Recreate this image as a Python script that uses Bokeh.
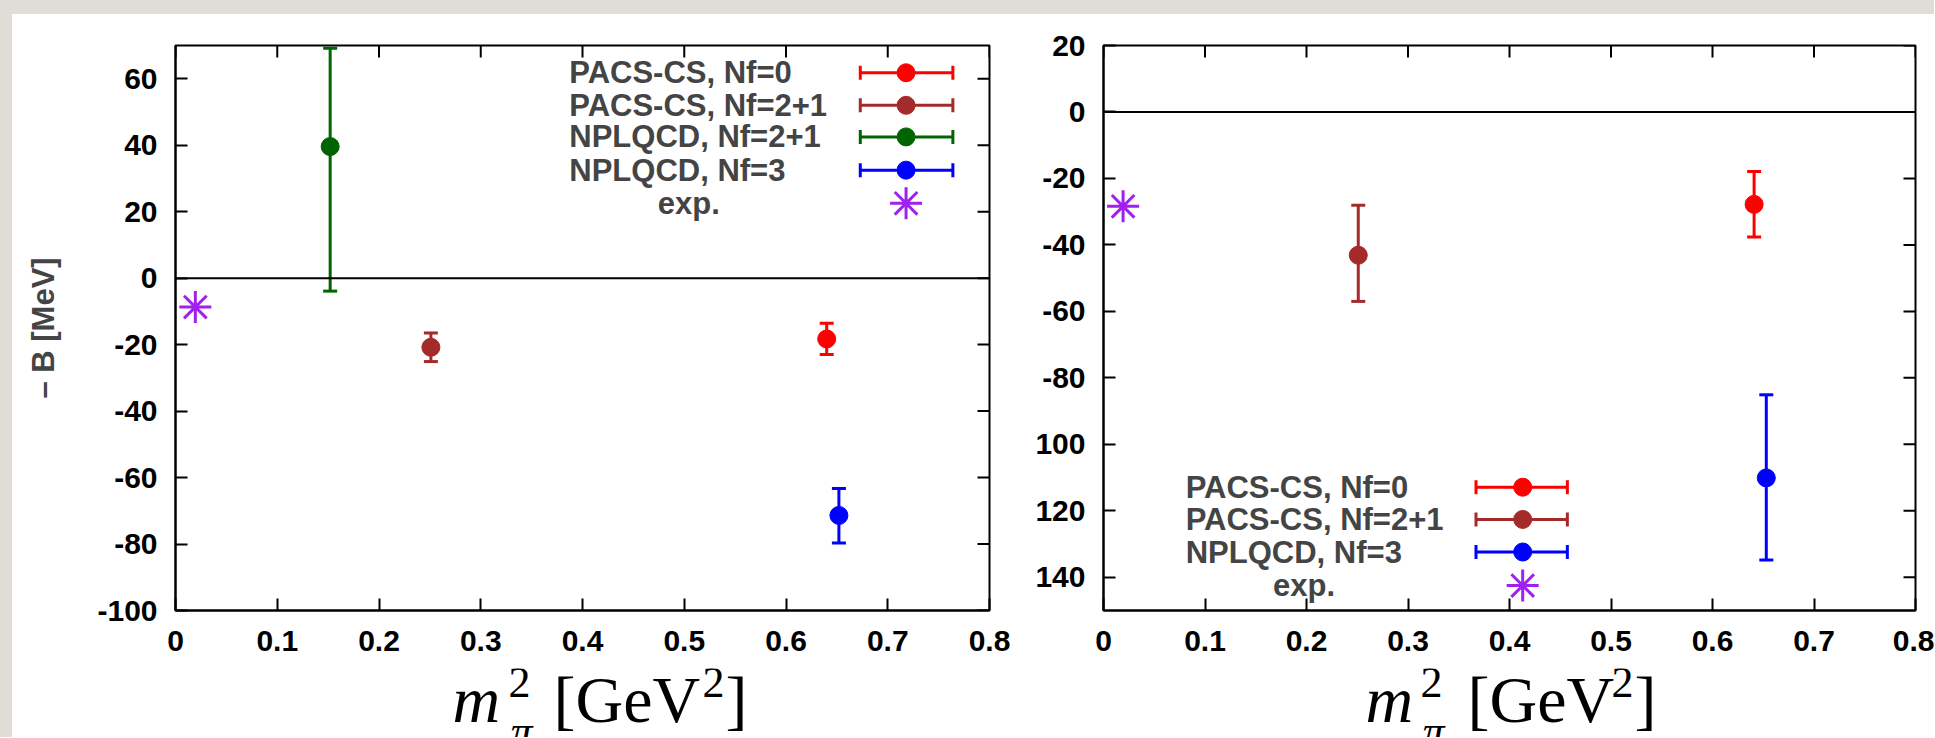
import math
from bokeh.plotting import figure
from bokeh.models import (ColumnDataSource, Whisker, TeeHead, Span,
                          FixedTicker, Label, Range1d)
from bokeh.layouts import row, column
from bokeh.embed import file_html
from bokeh.resources import INLINE

# ---------------- data ----------------
X_TICKS = [0.0, 0.1, 0.2, 0.3, 0.4, 0.5, 0.6, 0.7, 0.8]
X_TICK_LABELS = ["0", "0.1", "0.2", "0.3", "0.4", "0.5", "0.6", "0.7", "0.8"]

LEFT_Y_TICKS = [-100, -80, -60, -40, -20, 0, 20, 40, 60]
LEFT_Y_TICK_LABELS = ["-100", "-80", "-60", "-40", "-20", "0", "20", "40", "60"]
RIGHT_Y_TICKS = [-140, -120, -100, -80, -60, -40, -20, 0, 20]
RIGHT_Y_TICK_LABELS = ["140", "120", "100", "-80", "-60", "-40", "-20", "0", "20"]

SERIES_NAMES = ["PACS-CS, Nf=0", "PACS-CS, Nf=2+1", "NPLQCD,  Nf=2+1", "NPLQCD,  Nf=3", "exp."]
SERIES_COLORS = ["#ff0000", "#a52a2a", "#006400", "#0000ff", "#a020f0"]

# left panel
L_pacs0_x, L_pacs0_y, L_pacs0_lo, L_pacs0_hi = [0.640], [-18.3], [-23.0], [-13.6]
L_pacs21_x, L_pacs21_y, L_pacs21_lo, L_pacs21_hi = [0.251], [-20.8], [-25.1], [-16.5]
L_npl21_x, L_npl21_y, L_npl21_lo, L_npl21_hi = [0.152], [39.6], [-3.9], [69.2]
L_npl3_x, L_npl3_y, L_npl3_lo, L_npl3_hi = [0.652], [-71.4], [-79.7], [-63.3]
L_exp_x, L_exp_y = [0.0195], [-8.7]

# right panel
R_pacs0_x, R_pacs0_y, R_pacs0_lo, R_pacs0_hi = [0.641], [-27.8], [-37.6], [-17.9]
R_pacs21_x, R_pacs21_y, R_pacs21_lo, R_pacs21_hi = [0.251], [-43.1], [-57.0], [-28.1]
R_npl3_x, R_npl3_y, R_npl3_lo, R_npl3_hi = [0.653], [-110.1], [-134.8], [-85.1]
R_exp_x, R_exp_y = [0.0193], [-28.4]

TICK_FONT = "Liberation Sans"
SERIF = "Liberation Serif"


def style_axis(ax, ticks, labels, standoff):
    ax.ticker = FixedTicker(ticks=ticks)
    ax.axis_line_color = "black"
    ax.axis_line_width = 2
    ax.major_tick_in = 12
    ax.major_tick_out = 0
    ax.major_tick_line_width = 2
    ax.major_tick_line_color = "black"
    ax.minor_tick_line_color = None
    ax.major_label_text_font = TICK_FONT
    ax.major_label_text_font_style = "bold"
    ax.major_label_text_color = "black"
    ax.major_label_text_font_size = "30px"
    ax.major_label_standoff = standoff
    ax.major_label_overrides = {t: l for t, l in zip(ticks, labels)}


def make_fig(width, ylo, yhi, border_left, border_right, yticks, ylabels):
    p = figure(width=width, height=654, x_range=Range1d(0, 0.8),
               y_range=Range1d(ylo, yhi), toolbar_location=None,
               output_backend="svg", min_border_left=border_left,
               min_border_right=border_right, min_border_top=31,
               min_border_bottom=58)
    p.background_fill_color = "white"
    p.border_fill_color = "white"
    p.outline_line_color = "black"
    p.outline_line_width = 2
    p.xgrid.visible = False
    p.ygrid.visible = False
    style_axis(p.xaxis[0], X_TICKS, X_TICK_LABELS, 20)
    style_axis(p.yaxis[0], yticks, ylabels, 18)
    # mirrored inward ticks on the top and right frame edges (half clipped by the frame)
    p.scatter(X_TICKS, [yhi] * len(X_TICKS), marker="dash", angle=math.pi / 2,
              size=24, line_color="black", line_width=2)
    p.scatter([0.8] * len(yticks), yticks, marker="dash", size=24,
              line_color="black", line_width=2)
    p.add_layout(Span(location=0, dimension="width", line_color="black", line_width=2))
    return p


def add_series(p, xs, ys, lo, hi, color):
    src = ColumnDataSource(dict(x=xs, y=ys, lo=lo, hi=hi))
    w = Whisker(base="x", lower="lo", upper="hi", source=src, dimension="height",
                line_color=color, line_width=3,
                lower_head=TeeHead(size=14, line_color=color, line_width=3),
                upper_head=TeeHead(size=14, line_color=color, line_width=3))
    p.add_layout(w)
    p.scatter("x", "y", source=src, size=18, color=color)


def add_exp(p, xs, ys):
    p.scatter(xs, ys, marker="asterisk", size=32, line_color=SERIES_COLORS[4], line_width=3)


def add_legend(p, entries, text_x, exp_x, x0, x1, xm):
    for name, color, y in entries:
        if name == "exp.":
            p.add_layout(Label(x=exp_x, y=y, text=name, text_font=TICK_FONT,
                               text_font_style="bold", text_font_size="31px",
                               text_baseline="middle", text_align="left"))
            p.scatter([xm], [y], marker="asterisk", size=32, line_color=color, line_width=3)
        else:
            p.add_layout(Label(x=text_x, y=y, text=name, text_font=TICK_FONT,
                               text_font_style="bold", text_font_size="31px",
                               text_baseline="middle", text_align="left"))
            p.segment([x0], [y], [x1], [y], line_color=color, line_width=3)
            p.scatter([x0, x1], [y, y], marker="dash", angle=math.pi / 2, size=14,
                      line_color=color, line_width=3)
            p.scatter([xm], [y], size=18, color=color)


def make_title_fig(width, xm, xsup, xsub, xbr, xsup2, xclose):
    # separate strip under each panel holding the x-axis title m_pi^2 [GeV^2]
    h = 69
    t = figure(width=width, height=h, x_range=Range1d(0, width), y_range=Range1d(0, h),
               toolbar_location=None, output_backend="svg", x_axis_type=None,
               y_axis_type=None, min_border=0)
    t.outline_line_color = None
    t.background_fill_color = "white"
    t.border_fill_color = "white"
    t.grid.visible = False
    big, small = "66px", "44px"
    yb, ysup, ysub = 38, 55, 6
    pieces = [
        (xm, yb, "m", big, "italic"),
        (xsup, ysup, "2", small, "normal"),
        (xsub, ysub, "π", small, "italic"),
        (xbr, yb, "[GeV", big, "normal"),
        (xsup2, ysup, "2", small, "normal"),
        (xclose, yb, "]", big, "normal"),
    ]
    for x, y, txt, size, style in pieces:
        t.add_layout(Label(x=x, y=y, text=txt, text_font=SERIF, text_font_style=style,
                           text_font_size=size, text_align="left",
                           text_baseline="alphabetic", text_color="black"))
    return t


# ---------------- left panel ----------------
p1 = make_fig(1003, -100, 70, 163, 26, LEFT_Y_TICKS, LEFT_Y_TICK_LABELS)
p1.yaxis[0].axis_label = "– B [MeV]"
p1.yaxis[0].axis_label_text_font = TICK_FONT
p1.yaxis[0].axis_label_text_font_style = "bold"
p1.yaxis[0].axis_label_text_font_size = "31px"
p1.yaxis[0].axis_label_standoff = 33

add_series(p1, L_pacs0_x, L_pacs0_y, L_pacs0_lo, L_pacs0_hi, SERIES_COLORS[0])
add_series(p1, L_pacs21_x, L_pacs21_y, L_pacs21_lo, L_pacs21_hi, SERIES_COLORS[1])
add_series(p1, L_npl21_x, L_npl21_y, L_npl21_lo, L_npl21_hi, SERIES_COLORS[2])
add_series(p1, L_npl3_x, L_npl3_y, L_npl3_lo, L_npl3_hi, SERIES_COLORS[3])
add_exp(p1, L_exp_x, L_exp_y)

add_legend(p1, [(SERIES_NAMES[0], SERIES_COLORS[0], 61.8),
                (SERIES_NAMES[1], SERIES_COLORS[1], 52.0),
                (SERIES_NAMES[2], SERIES_COLORS[2], 42.5),
                (SERIES_NAMES[3], SERIES_COLORS[3], 32.5),
                (SERIES_NAMES[4], SERIES_COLORS[4], 22.5)],
           0.387, 0.474, 0.673, 0.764, 0.718)

# ---------------- right panel ----------------
p2 = make_fig(919, -150, 20, 88, 19, RIGHT_Y_TICKS, RIGHT_Y_TICK_LABELS)

add_series(p2, R_pacs0_x, R_pacs0_y, R_pacs0_lo, R_pacs0_hi, SERIES_COLORS[0])
add_series(p2, R_pacs21_x, R_pacs21_y, R_pacs21_lo, R_pacs21_hi, SERIES_COLORS[1])
add_series(p2, R_npl3_x, R_npl3_y, R_npl3_lo, R_npl3_hi, SERIES_COLORS[3])
add_exp(p2, R_exp_x, R_exp_y)

add_legend(p2, [(SERIES_NAMES[0], SERIES_COLORS[0], -112.9),
                (SERIES_NAMES[1], SERIES_COLORS[1], -122.6),
                (SERIES_NAMES[3], SERIES_COLORS[3], -132.4),
                (SERIES_NAMES[4], SERIES_COLORS[4], -142.5)],
           0.081, 0.167, 0.367, 0.457, 0.413)

# ---------------- x-axis titles ----------------
t1 = make_title_fig(1003, 440, 496, 498, 541, 690, 713)
t2 = make_title_fig(919, 350, 405, 407, 452, 596, 619)

inner = column(row(p1, p2), row(t1, t2), styles={"background-color": "white"})
inner.margin = (14, 0, 0, 12)
layout = column(inner, styles={"background-color": "#deddd7"})
open("out.html", "w").write(file_html(layout, INLINE))
